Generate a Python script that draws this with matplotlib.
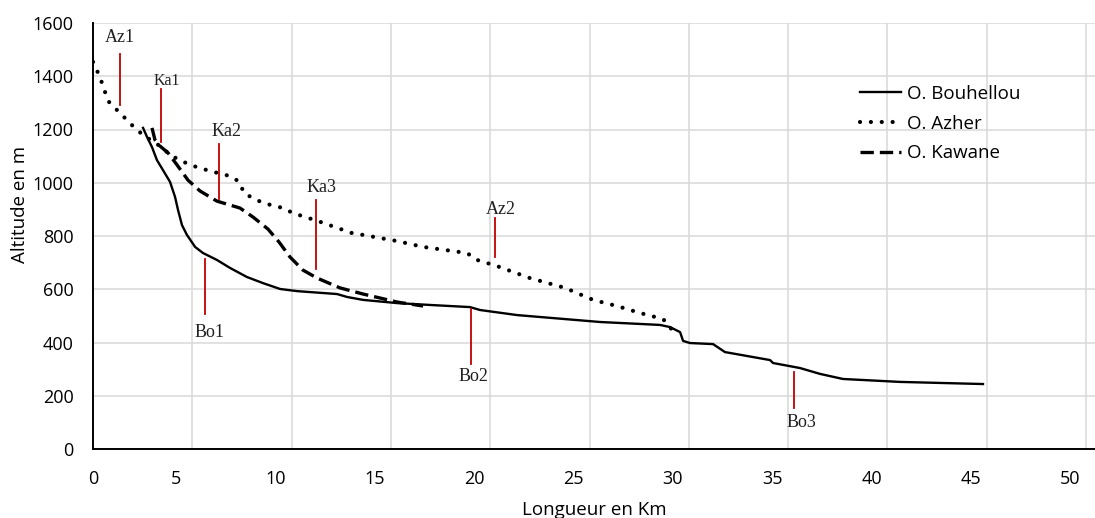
import matplotlib
matplotlib.use("Agg")
import matplotlib.pyplot as plt
from matplotlib.transforms import ScaledTranslation

# O. Bouhellou (solid)
bou_km = [2.52, 2.72, 2.97, 3.22, 3.52, 3.88, 4.13, 4.28, 4.48, 4.73, 5.14, 5.54,
          6.24, 6.90, 7.75, 8.56, 9.42, 10.27, 12.29, 12.79, 13.60, 15.31, 16.97,
          18.98, 19.49, 21.35, 25.53, 28.55, 29.05, 29.56, 29.71, 30.06, 31.22,
          31.82, 34.09, 34.24, 35.60, 36.61, 37.76, 40.63, 44.81]
bou_alt = [1206, 1172, 1134, 1085, 1048, 1003, 947, 898, 841, 804, 759, 736,
           710, 680, 646, 623, 601, 593, 582, 571, 560, 548, 541,
           533, 522, 503, 477, 466, 458, 439, 406, 398, 394,
           364, 334, 323, 304, 282, 263, 252, 244]

# O. Azher (dotted)
azh_km = [0.0, 0.35, 0.76, 1.21, 1.61, 2.01, 2.52, 3.22, 3.98, 4.88, 5.89, 6.90,
          7.30, 7.65, 8.56, 9.57, 10.07, 11.33, 13.04, 13.60, 15.31, 16.62, 18.83,
          19.34, 20.34, 22.00, 23.77, 25.18, 26.38, 27.54, 28.70, 28.95, 29.15, 29.41]
azh_alt = [1454, 1397, 1307, 1273, 1243, 1213, 1179, 1146, 1100, 1067, 1044, 1025,
           1007, 958, 924, 905, 886, 856, 811, 804, 781, 759, 736,
           710, 687, 642, 605, 560, 537, 511, 488, 469, 447, 428]

# O. Kawane (dashed)
kaw_km = [2.97, 3.12, 3.37, 3.78, 4.23, 4.78, 5.39, 6.24, 7.40, 8.06, 8.81, 9.37,
          9.92, 10.57, 11.28, 12.44, 13.60, 15.31, 16.62]
kaw_alt = [1206, 1161, 1138, 1112, 1067, 1010, 969, 931, 905, 871, 826, 777,
           721, 672, 642, 605, 582, 552, 537]

# red station markers: name, km, line bottom, line top, label x, label y, label size
mark_names = ["Az1", "Ka1", "Ka2", "Ka3", "Az2", "Bo1", "Bo2", "Bo3"]
mark_km = [1.36, 3.42, 6.34, 11.23, 20.24, 5.64, 19.03, 35.30]
mark_lo = [1292, 1153, 939, 676, 721, 507, 319, 154]
mark_hi = [1484, 1352, 1146, 935, 868, 714, 526, 289]
mark_lab_km = [1.36, 3.73, 6.70, 11.53, 20.55, 5.89, 19.18, 35.65]
mark_lab_alt = [1544, 1382, 1191, 984, 898, 436, 274, 101]
mark_size = [13, 11.5, 13, 13, 13, 13, 13, 13]

x_ticks = list(range(0, 51, 5))
y_ticks = list(range(0, 1601, 200))

plt.rcParams['font.family'] = ['Open Sans', 'DejaVu Sans']

fig = plt.figure(figsize=(10.95, 5.18), dpi=100)
ax = fig.add_axes([93 / 1095, 69 / 518, 1002 / 1095, 426 / 518])

ax.plot(bou_km, bou_alt, color='black', lw=1.7, label='O. Bouhellou', zorder=3)
ax.plot(azh_km, azh_alt, color='black', lw=3.0, linestyle=(0, (0.01, 2.6)),
        dash_capstyle='round', label='O. Azher', zorder=3)
ax.plot(kaw_km, kaw_alt, color='black', lw=2.4, linestyle=(0, (4, 1.8)),
        label='O. Kawane', zorder=3)

for i in range(len(mark_names)):
    ax.plot([mark_km[i], mark_km[i]], [mark_lo[i], mark_hi[i]], color='#c00000', lw=1.3, zorder=4)
    ax.text(mark_lab_km[i], mark_lab_alt[i], mark_names[i], ha='center', va='center',
            family='Liberation Serif', fontsize=mark_size[i], color='#202020')

ax.set_xlim(0, 50.45)
ax.set_ylim(0, 1600)
ax.set_xticks(x_ticks)
ax.set_yticks(y_ticks)
ax.grid(True, color='#d9d9d9', lw=1.1)
ax.set_axisbelow(True)
for s in ['top', 'right']:
    ax.spines[s].set_visible(False)
ax.spines['left'].set_linewidth(1.4)
ax.spines['bottom'].set_linewidth(1.4)
ax.tick_params(length=0, labelsize=13, colors='black')
ax.tick_params(axis='x', pad=15)
ax.tick_params(axis='y', pad=14)

# tick labels in the source are shifted left of their gridlines
for lab in ax.get_xticklabels()[1:]:
    lab.set_transform(lab.get_transform() + ScaledTranslation(-0.16, 0, fig.dpi_scale_trans))

ax.set_xlabel('Longueur en Km', fontsize=13.5)
ax.xaxis.set_label_coords(0.5, -0.123)
ax.set_ylabel('Altitude en m', fontsize=13.5)
ax.yaxis.set_label_coords(-0.064, 0.573)

ax.legend(loc='upper left', bbox_to_anchor=(0.758, 0.872), frameon=False, fontsize=13.5,
          handlelength=2.2, handletextpad=0.3, labelspacing=0.62, borderaxespad=0)

fig.savefig('out.png', dpi=100)
